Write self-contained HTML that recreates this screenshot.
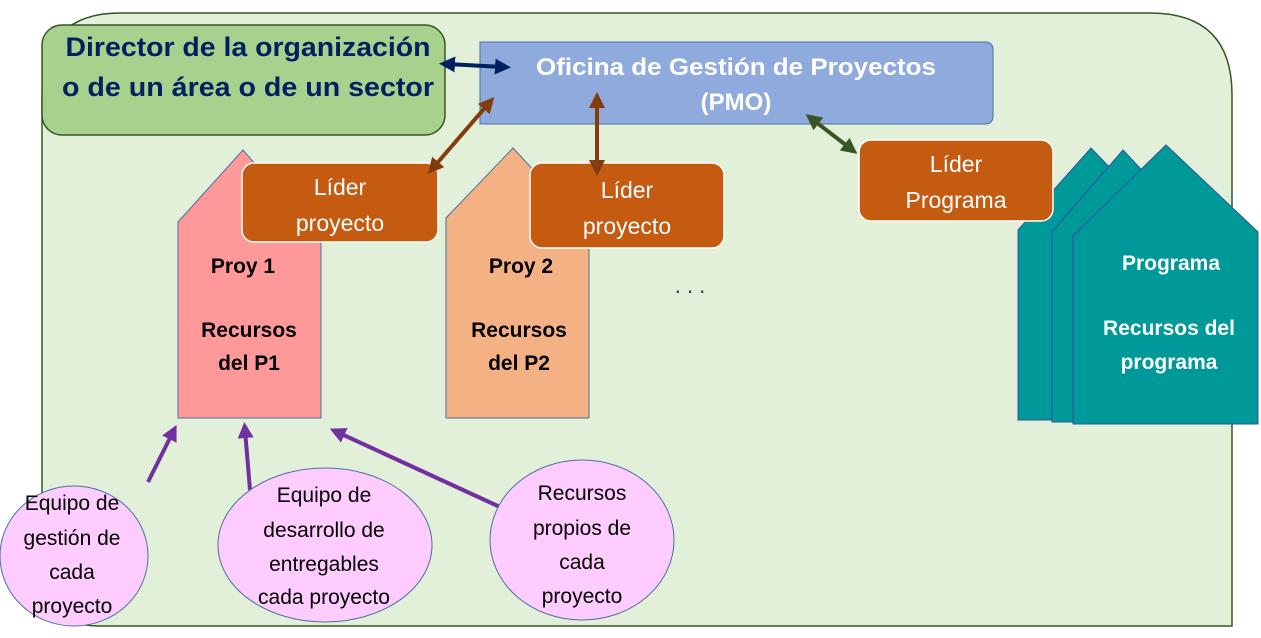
<!DOCTYPE html>
<html><head><meta charset="utf-8"><style>
html,body{margin:0;padding:0;background:#fff;}
svg{display:block;font-family:"Liberation Sans",sans-serif;}
</style></head><body>
<svg width="1261" height="638" viewBox="0 0 1261 638" xmlns="http://www.w3.org/2000/svg">
<defs>
<marker id="ab" viewBox="0 0 10 10" refX="5" refY="5" markerWidth="4" markerHeight="4" orient="auto-start-reverse"><path d="M0,0 L10,5 L0,10 z" fill="#002060"/></marker>
<marker id="ar" viewBox="0 0 10 10" refX="5" refY="5" markerWidth="4" markerHeight="4" orient="auto-start-reverse"><path d="M0,0 L10,5 L0,10 z" fill="#843c0c"/></marker>
<marker id="ag" viewBox="0 0 10 10" refX="5" refY="5" markerWidth="4" markerHeight="4" orient="auto-start-reverse"><path d="M0,0 L10,5 L0,10 z" fill="#375623"/></marker>
<marker id="ap" viewBox="0 0 10 10" refX="5" refY="5" markerWidth="4" markerHeight="4" orient="auto"><path d="M0,0 L10,5 L0,10 z" fill="#7030a0"/></marker>
</defs>
<!-- container -->
<path d="M120,13 L1150,13 Q1232,13 1232,95 L1232,626 L100,626 Q42,626 42,570 L42,95 Q42,13 120,13 Z" fill="#e2efd9" stroke="#375623" stroke-width="1.5"/>
<!-- director -->
<rect x="42" y="25" width="403" height="110" rx="20" fill="#a9d18e" stroke="#375623" stroke-width="1.5"/>
<text x="248" y="56" text-anchor="middle" font-size="27" font-weight="bold" fill="#002060" textLength="365" lengthAdjust="spacingAndGlyphs">Director de la organización</text>
<text x="248" y="96" text-anchor="middle" font-size="27" font-weight="bold" fill="#002060" textLength="372" lengthAdjust="spacingAndGlyphs">o de un área o de un sector</text>
<!-- PMO -->
<path d="M480,42 L985,42 Q993,42 993,50 L993,116 Q993,124 985,124 L480,124 Z" fill="#8faadc" stroke="#4a6fa5" stroke-width="1"/>
<text x="736" y="75" text-anchor="middle" font-size="24" font-weight="bold" fill="#fff" textLength="400" lengthAdjust="spacingAndGlyphs">Oficina de Gestión de Proyectos</text>
<text x="736" y="110" text-anchor="middle" font-size="24" font-weight="bold" fill="#fff">(PMO)</text>
<!-- Proy 1 pentagon -->
<path d="M178,222 L243,150 L321,240 L321,418 L178,418 Z" fill="#ff9999" stroke="#4a6fa5" stroke-width="1"/>
<text x="243" y="273" text-anchor="middle" font-size="21" font-weight="bold">Proy 1</text>
<text x="249" y="337" text-anchor="middle" font-size="21" font-weight="bold">Recursos</text>
<text x="249" y="370" text-anchor="middle" font-size="21" font-weight="bold">del P1</text>
<!-- Proy 2 -->
<path d="M446,218 L513,148 L589,230 L589,418 L446,418 Z" fill="#f4b183" stroke="#4a6fa5" stroke-width="1"/>
<text x="521" y="273" text-anchor="middle" font-size="21" font-weight="bold">Proy 2</text>
<text x="519" y="337" text-anchor="middle" font-size="21" font-weight="bold">Recursos</text>
<text x="519" y="370" text-anchor="middle" font-size="21" font-weight="bold">del P2</text>
<text x="690" y="293" text-anchor="middle" font-size="22" fill="#1f3864">. . .</text>
<!-- Programs -->
<path d="M1018,230 L1091,148 L1170,230 L1170,420 L1018,420 Z" fill="#009999" stroke="#2f5597" stroke-width="1"/>
<path d="M1052,232 L1123,150 L1200,232 L1200,422 L1052,422 Z" fill="#009999" stroke="#2f5597" stroke-width="1"/>
<path d="M1073,236 L1166,145 L1258,232 L1258,424 L1073,424 Z" fill="#009999" stroke="#2f5597" stroke-width="1"/>
<text x="1171" y="270" text-anchor="middle" font-size="21" font-weight="bold" fill="#fff">Programa</text>
<text x="1169" y="335" text-anchor="middle" font-size="21" font-weight="bold" fill="#fff">Recursos del</text>
<text x="1169" y="369" text-anchor="middle" font-size="21" font-weight="bold" fill="#fff">programa</text>
<!-- Lider boxes -->
<rect x="242" y="163" width="196" height="79" rx="12" fill="#c55a11" stroke="#fff" stroke-width="1.5"/>
<text x="340" y="195" text-anchor="middle" font-size="23" fill="#fff">Líder</text>
<text x="340" y="231" text-anchor="middle" font-size="23" fill="#fff">proyecto</text>
<rect x="530" y="163" width="194" height="85" rx="12" fill="#c55a11" stroke="#fff" stroke-width="1.5"/>
<text x="627" y="198" text-anchor="middle" font-size="23" fill="#fff">Líder</text>
<text x="627" y="234" text-anchor="middle" font-size="23" fill="#fff">proyecto</text>
<rect x="859" y="140" width="194" height="81" rx="12" fill="#c55a11" stroke="#fff" stroke-width="1.5"/>
<text x="956" y="172" text-anchor="middle" font-size="23" fill="#fff">Líder</text>
<text x="956" y="208" text-anchor="middle" font-size="23" fill="#fff">Programa</text>
<!-- connectors -->
<line x1="447" y1="64" x2="503" y2="67" stroke="#002060" stroke-width="4" marker-start="url(#ab)" marker-end="url(#ab)"/>
<line x1="433" y1="168" x2="489" y2="103" stroke="#843c0c" stroke-width="4" marker-start="url(#ar)" marker-end="url(#ar)"/>
<line x1="597" y1="100" x2="597" y2="168" stroke="#843c0c" stroke-width="4" marker-start="url(#ar)" marker-end="url(#ar)"/>
<line x1="812" y1="119" x2="851" y2="149" stroke="#375623" stroke-width="4" marker-start="url(#ag)" marker-end="url(#ag)"/>
<!-- purple arrows -->
<line x1="148" y1="482" x2="173" y2="432" stroke="#7030a0" stroke-width="4" marker-end="url(#ap)"/>
<line x1="250" y1="490" x2="245" y2="430" stroke="#7030a0" stroke-width="4" marker-end="url(#ap)"/>
<line x1="500" y1="507" x2="337" y2="432" stroke="#7030a0" stroke-width="4" marker-end="url(#ap)"/>
<!-- ellipses -->
<ellipse cx="74" cy="556" rx="74" ry="70" fill="#ffccff" stroke="#4a6fa5" stroke-width="1"/>
<text font-size="21" text-anchor="middle"><tspan x="72" y="510">Equipo de</tspan><tspan x="72" y="545">gestión de</tspan><tspan x="72" y="579">cada</tspan><tspan x="72" y="613">proyecto</tspan></text>
<ellipse cx="325" cy="545" rx="107" ry="77" fill="#ffccff" stroke="#4a6fa5" stroke-width="1"/>
<text font-size="21" text-anchor="middle"><tspan x="324" y="502">Equipo  de</tspan><tspan x="324" y="537">desarrollo de</tspan><tspan x="324" y="571">entregables</tspan><tspan x="324" y="604">cada proyecto</tspan></text>
<ellipse cx="582" cy="540" rx="92" ry="80" fill="#ffccff" stroke="#4a6fa5" stroke-width="1"/>
<text font-size="21" text-anchor="middle"><tspan x="582" y="500">Recursos</tspan><tspan x="582" y="535">propios de</tspan><tspan x="582" y="569">cada</tspan><tspan x="582" y="603">proyecto</tspan></text>
</svg>
</body></html>
